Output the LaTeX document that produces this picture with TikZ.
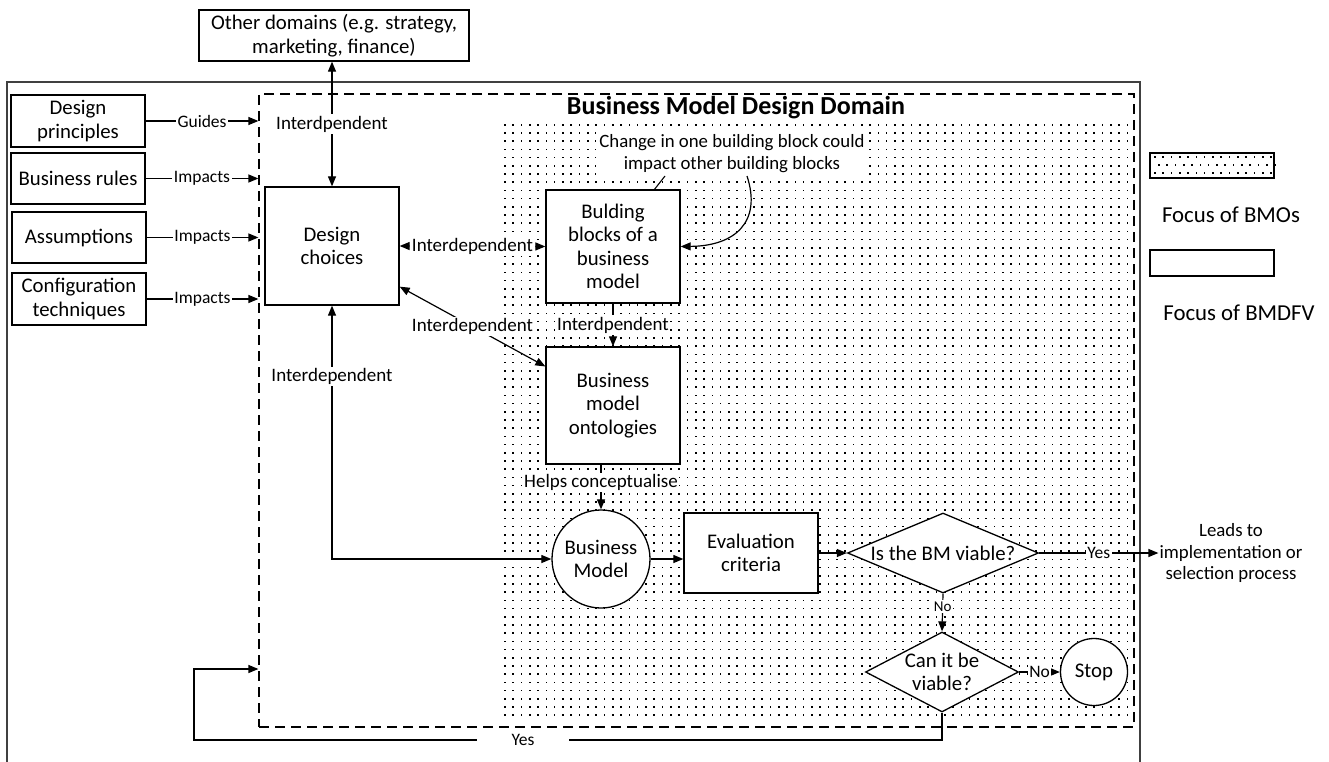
\documentclass[tikz,border=0pt]{standalone}
\usepackage{fontspec}
\setmainfont{Carlito}
\usetikzlibrary{shapes.geometric, arrows.meta}

\begin{document}
\begin{tikzpicture}[x=1pt, y=-1pt]

        % Setup the styles
        \tikzset{box style/.style={draw, fill=white, line width=1.3pt,
                                   align=center, inner sep=2pt,
                                   font=\fontsize{20.8}{23.5}\selectfont},
                 dia style/.style={diamond, draw, fill=white, line width=1.3pt,
                                   inner sep=0pt},
                 edge label/.style={fill=white, inner sep=1.5pt,
                                    font=\fontsize{19}{22}\selectfont},
                 side label/.style={fill=white, inner sep=1.5pt,
                                    font=\fontsize{17.5}{20}\selectfont},
                 link/.style={line width=1.2pt,
                              >={Triangle[length=10pt, width=8pt]}}}

        \useasboundingbox (0,0) rectangle (1329,762);

        % Dotted area (focus of BMOs)
        \foreach \i in {0,...,75}
            \foreach \j in {0,...,72}
                \fill (504+\i*8.3, 124+\j*8.2) rectangle ++(1.6,1.6);

        % Outer frame and design domain
        \draw[line width=1.5pt, black!75] (7,762) -- (7,82) -- (1140,82) -- (1140,762);
        \node[draw, dashed, dash pattern=on 10pt off 6pt, line width=1.2pt,
              minimum width=875pt, minimum height=633pt] at (696.5,410.5) (bmdd) {};
        \node[font=\bfseries\fontsize{26}{30}\selectfont] at (736,108) (title)
            {Business Model Design Domain};

        % Draw the boxes
        \node[box style, minimum width=270pt, minimum height=51pt] at (334,35.5) (od)
            {Other domains (e.g. strategy,\\marketing, finance)};
        \node[box style, minimum width=134pt, minimum height=52pt] at (78,121)   (dp) {Design\\principles};
        \node[box style, minimum width=134pt, minimum height=51pt] at (78,178.5) (br) {Business rules};
        \node[box style, minimum width=134pt, minimum height=51pt] at (79,237.5) (as) {Assumptions};
        \node[box style, minimum width=134pt, minimum height=52pt] at (79,299)   (ct) {Configuration\\techniques};
        \node[box style, minimum width=134pt, minimum height=118pt] at (332,246) (dc) {Design\\choices};
        \node[box style, minimum width=134pt, minimum height=113pt] at (613,246.5) (bb)
            {Bulding\\blocks of a\\business\\model};
        \node[box style, minimum width=134pt, minimum height=117pt] at (613,405.5) (on)
            {Business\\model\\ontologies};
        \node[box style, circle, minimum size=98pt, inner sep=0pt] at (601,559) (bm) {Business\\Model};
        \node[box style, minimum width=134pt, minimum height=80pt] at (751,553) (ev) {Evaluation\\criteria};
        \node[dia style, minimum width=191pt, minimum height=80pt,
              label={[font=\fontsize{20.8}{23.5}\selectfont]center:Is the BM viable?}] at (943,553) (d1) {};
        \node[dia style, minimum width=153pt, minimum height=80pt,
              label={[font=\fontsize{20.8}{23.5}\selectfont, align=center]center:Can it be\\viable?}] at (942,672) (d2) {};
        \node[box style, circle, minimum size=67pt, inner sep=0pt] at (1094,672) (stop) {Stop};
        \node[align=center, inner sep=1pt, font=\fontsize{18.8}{21.5}\selectfont] at (1231,553) (leads)
            {Leads to\\implementation or\\selection process};

        % Note on the building blocks
        \node[fill=white, align=center, inner sep=3pt, font=\fontsize{18.8}{22}\selectfont] at (732,154) (chg)
            {Change in one building block could\\impact other building blocks};
        \coordinate (n1) at (665,176);
        \coordinate (n2) at (654,190);
        \coordinate (n3) at (747,176);
        \draw[line width=1.1pt] (n1) -- (n2);
        \draw[link, ->] (n3) .. controls (762,222) and (735,246) .. (bb.east);

        % Legend
        \node[draw, line width=1.1pt, minimum width=124pt, minimum height=25pt] at (1212,165.5) (lgdots) {};
        \foreach \i in {0,...,14} {
            \fill (1154+\i*8.3, 156) rectangle ++(1.6,1.6);
            \fill (1158+\i*8.3, 164) rectangle ++(1.6,1.6);
            \fill (1154+\i*8.3, 172) rectangle ++(1.6,1.6);
        }
        \node[font=\fontsize{22.8}{26}\selectfont] at (1231,215) (lgbmo) {Focus of BMOs};
        \node[draw, line width=1.1pt, minimum width=124pt, minimum height=26pt] at (1212,263) (lgwhite) {};
        \node[font=\fontsize{22.8}{26}\selectfont] at (1239,313) (lgbmdfv) {Focus of BMDFV};

        % Connect the boxes with arrows
        \draw[link, ->] (dp.east) -- node[side label] {Guides}  (dp.east -| bmdd.west);
        \draw[link, ->] (br.east) -- node[side label] {Impacts} (br.east -| bmdd.west);
        \draw[link, ->] (as.east) -- node[side label] {Impacts} (as.east -| bmdd.west);
        \draw[link, ->] (ct.east) -- node[side label] {Impacts} (ct.east -| bmdd.west);

        \draw[link, <->] (od.south -| dc.north) -- node[edge label] {Interdpendent} (dc.north);
        \draw[link, <->] (dc.east) -- node[edge label] {Interdependent} (bb.west);
        \draw[link, <->] (dc.-31) -- node[edge label] {Interdependent} (on.150);
        \draw[link, ->] (bb.south) -- node[edge label] {Interdpendent} (on.north);
        \draw[link, ->] (on.south -| bm.north) -- node[edge label, pos=0.4] {Helps conceptualise} (bm.north);
        \draw[link, <->] (dc.south) |- node[edge label, pos=0.14] {Interdependent} (bm.west);
        \draw[link, ->] (bm.east) -- (bm.east -| ev.west);
        \draw[link, ->] (ev.east) -- (d1.west);
        \draw[link, ->] (d1.east) -- node[side label] {Yes} (leads.west);
        \draw[link, ->] (d1.south) -- node[side label, pos=0.35, font=\fontsize{15}{18}\selectfont] {No} (d2.north);
        \draw[link, ->] (d2.east) -- node[side label] {No} (stop.west);

        % Back to the design domain
        \coordinate (yesleft) at (194,740);
        \coordinate (yesin)   at (194,669);
        \draw[link, ->] (d2.south) |- node[side label, pos=0.78, minimum width=92pt] {Yes} (yesleft)
            -- (yesin) -- (yesin -| bmdd.west);

\end{tikzpicture}
\end{document}
